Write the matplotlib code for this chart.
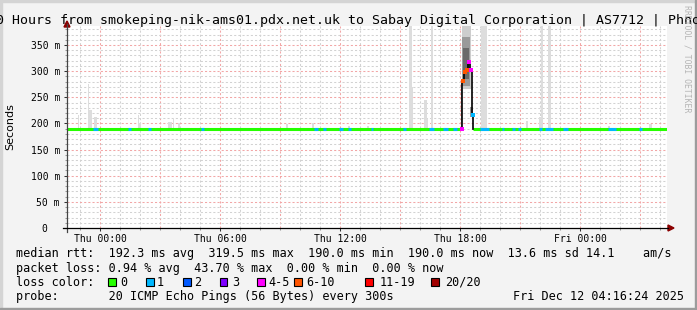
import matplotlib
matplotlib.use("Agg")
import matplotlib.pyplot as plt
from matplotlib.patches import Rectangle, Polygon
from matplotlib.lines import Line2D

W, H = 697, 310

# time axis in hours from Thu 00:00, 300 s steps
t_start, t_end = -1.65, 28.35
median_rtt = 190.0

hour_ticks = [0, 6, 12, 18, 24]
hour_labels = ["Thu 00:00", "Thu 06:00", "Thu 12:00", "Thu 18:00", "Fri 00:00"]
ms_ticks = [0, 50, 100, 150, 200, 250, 300, 350]
ms_labels = ["0  ", "50 m", "100 m", "150 m", "200 m", "250 m", "300 m", "350 m"]

# light smoke above the median: (start h, end h, top ms)
smoke_light = [
    (-1.10, -1.05, 217), (-0.60, -0.55, 275), (-0.60, -0.40, 226),
    (-0.30, -0.15, 212), (1.90, 1.95, 216), (1.90, 2.05, 201),
    (3.40, 3.60, 203), (3.65, 3.70, 210), (3.90, 4.00, 201),
    (9.30, 9.40, 199), (10.60, 10.70, 200), (12.40, 12.50, 196),
    (13.35, 13.45, 196), (15.45, 15.58, 390), (15.45, 15.65, 270),
    (16.20, 16.35, 245), (16.20, 16.40, 208), (16.55, 16.65, 390),
    (19.05, 19.35, 390), (21.30, 21.40, 205), (22.05, 22.15, 390),
    (21.95, 22.15, 212), (22.40, 22.55, 390), (25.40, 25.50, 196),
    (27.45, 27.60, 199),
]

# dense smoke during the 18:00 event: (start h, end h, low ms, high ms)
spike_smoke_outer = [(18.08, 18.55, 265, 390)]
spike_smoke_mid = [(18.10, 18.50, 272, 365), (18.05, 18.10, 192, 280), (18.50, 18.65, 212, 232)]
spike_smoke_dark = [(18.15, 18.45, 285, 345)]

# median during the event and its loss class
spike_t = [18.05, 18.10, 18.22, 18.32, 18.42, 18.50, 18.60, 18.65]
spike_ms = [190, 281, 299, 303, 318, 302, 216, 190]
spike_loss = ["4-5", "6-10", "6-10", "6-10", "4-5", "4-5", "1", "0"]

# spans on the baseline with 1 of 20 pings lost
loss1_spans = [
    (-0.35, -0.10), (1.40, 1.55), (2.40, 2.55), (5.05, 5.20), (10.70, 10.90),
    (11.15, 11.30), (11.95, 12.15), (12.40, 12.55), (13.55, 13.65), (15.15, 15.30),
    (16.45, 16.70), (17.15, 17.40), (17.65, 17.85), (19.00, 19.45), (20.10, 20.20),
    (20.60, 20.75), (20.90, 21.05), (21.95, 22.10), (22.25, 22.65), (23.15, 23.40),
    (25.40, 25.80), (26.95, 27.10),
]

loss_classes = ["0", "1", "2", "3", "4-5", "6-10", "11-19", "20/20"]
loss_colors = ["#26ff00", "#00b8ff", "#0059ff", "#7e00ff", "#ff00ff", "#ff5500", "#ff0000", "#a10000"]
loss_color = dict(zip(loss_classes, loss_colors))

title = "30 Hours from smokeping-nik-ams01.pdx.net.uk to Sabay Digital Corporation | AS7712 | Phnom Penh"
rtt_line = "median rtt:  192.3 ms avg  319.5 ms max  190.0 ms min  190.0 ms now  13.6 ms sd 14.1    am/s"
loss_line = "packet loss: 0.94 % avg  43.70 % max  0.00 % min  0.00 % now"
probe_line = "probe:       20 ICMP Echo Pings (56 Bytes) every 300s"
stamp = "Fri Dec 12 04:16:24 2025"

MONO = "DejaVu Sans Mono"


def fx(px):
    return px / W


def fy(py):
    return 1 - py / H


fig = plt.figure(figsize=(W / 100, H / 100), dpi=100, facecolor="#f3f3f3")

# frame shading
fig.patches.append(Rectangle((0, fy(2)), 1, 2 / H, transform=fig.transFigure, color="#d4d4d4", zorder=0))
fig.patches.append(Rectangle((0, 0), 2 / W, 1, transform=fig.transFigure, color="#d4d4d4", zorder=0))
fig.patches.append(Rectangle((0, 0), 1, 2 / H, transform=fig.transFigure, color="#9c9c9c", zorder=0))
fig.patches.append(Rectangle((fx(W - 2), 0), 2 / W, 1, transform=fig.transFigure, color="#9c9c9c", zorder=0))

ax = fig.add_axes([fx(67), fy(228), 600 / W, 202 / H])
ax.set_facecolor("white")
ax.set_xlim(t_start, t_end)
ax.set_ylim(0, 386.3)
for s in ax.spines.values():
    s.set_visible(False)

# grid
for h in range(-1, 29):
    major = h % 3 == 0
    ax.axvline(h, color="#f2a6a6" if major else "#d2d2d2", lw=0.75,
               ls=(0, (2, 2)), zorder=1)
for m in range(10, 390, 10):
    major = m % 50 == 0
    ax.axhline(m, color="#f2a6a6" if major else "#d2d2d2", lw=0.75,
               ls=(0, (2, 2)), zorder=1)

# smoke
for a, b, top in smoke_light:
    ax.bar(a, top - median_rtt, width=b - a, bottom=median_rtt, align="edge",
           color="#dddddd", linewidth=0, zorder=2)
for rows, col in [(spike_smoke_outer, "#cdcdcd"), (spike_smoke_mid, "#9a9a9a"),
                  (spike_smoke_dark, "#6a6a6a")]:
    for a, b, lo, hi in rows:
        ax.bar(a, hi - lo, width=b - a, bottom=lo, align="edge",
               color=col, linewidth=0, zorder=3)

# median line
ax.hlines(median_rtt, t_start, spike_t[0], color=loss_color["0"], lw=2.2, zorder=4)
ax.hlines(median_rtt, spike_t[-1], t_end, color=loss_color["0"], lw=2.2, zorder=4)
for a, b in loss1_spans:
    ax.hlines(median_rtt, a, b, color=loss_color["1"], lw=2.2, zorder=5)
ax.plot(spike_t, spike_ms, drawstyle="steps-post", color="black", lw=1.2, zorder=6)
for t, v, lc in zip(spike_t, spike_ms, spike_loss):
    if lc != "0":
        ax.plot(t + 0.03, v, marker="s", ms=2.6, mew=0, color=loss_color[lc], zorder=7)

# ticks
ax.set_xticks(hour_ticks, hour_labels)
ax.set_xticks(range(-1, 29), minor=True)
ax.set_yticks(ms_ticks, ms_labels)
ax.set_yticks(range(0, 390, 10), minor=True)
ax.tick_params(axis="both", which="major", length=2.5, width=0.75, color="#333333",
               labelsize=7, labelfontfamily=MONO)
ax.tick_params(axis="both", which="minor", length=1.5, width=0.75, color="#999999")
ax.tick_params(axis="x", which="major", pad=1.5)
ax.tick_params(axis="y", which="major", pad=2.6)

# axis lines with arrows
fig.add_artist(Line2D([fx(67), fx(67)], [fy(232), fy(24)], color="#444444", lw=0.9))
fig.add_artist(Line2D([fx(63), fx(668)], [fy(228), fy(228)], color="black", lw=0.9))
fig.patches.append(Polygon([(fx(64), fy(27)), (fx(70), fy(27)), (fx(67), fy(21))],
                           transform=fig.transFigure, color="#8b0000"))
fig.patches.append(Polygon([(fx(668), fy(225)), (fx(668), fy(231)), (fx(674), fy(228))],
                           transform=fig.transFigure, color="#8b0000"))

# texts
fig.text(fx(-12), fy(24), title, family=MONO, fontsize=9.56, ha="left", va="baseline")
fig.text(fx(10.5), fy(127), "Seconds", fontsize=8, rotation=90, ha="center", va="center")
fig.text(fx(687), fy(59), "RRDTOOL / TOBI OETIKER", family=MONO, fontsize=5.9,
         rotation=270, ha="center", va="center", color="#b5b5b5")

leg = dict(family=MONO, fontsize=8.5, ha="left", va="baseline")
fig.text(fx(16), fy(257.5), rtt_line, **leg)
fig.text(fx(16), fy(271.7), loss_line, **leg)
fig.text(fx(16), fy(285.8), "loss color:", **leg)
for lc, col, bx, lx in zip(loss_classes, loss_colors,
                           [108, 146, 183, 220, 257, 294, 365, 431],
                           [120, 157, 194, 232, 268, 306, 380, 445]):
    fig.patches.append(Rectangle((fx(bx), fy(285.7)), 7.5 / W, 8 / H, transform=fig.transFigure,
                                 facecolor=col, edgecolor="black", lw=0.8))
    fig.text(fx(lx), fy(285.8), lc, **leg)
fig.text(fx(16), fy(300), probe_line, **leg)
fig.text(fx(513), fy(300), stamp, **leg)

fig.savefig("out.png", dpi=100, facecolor=fig.get_facecolor())
